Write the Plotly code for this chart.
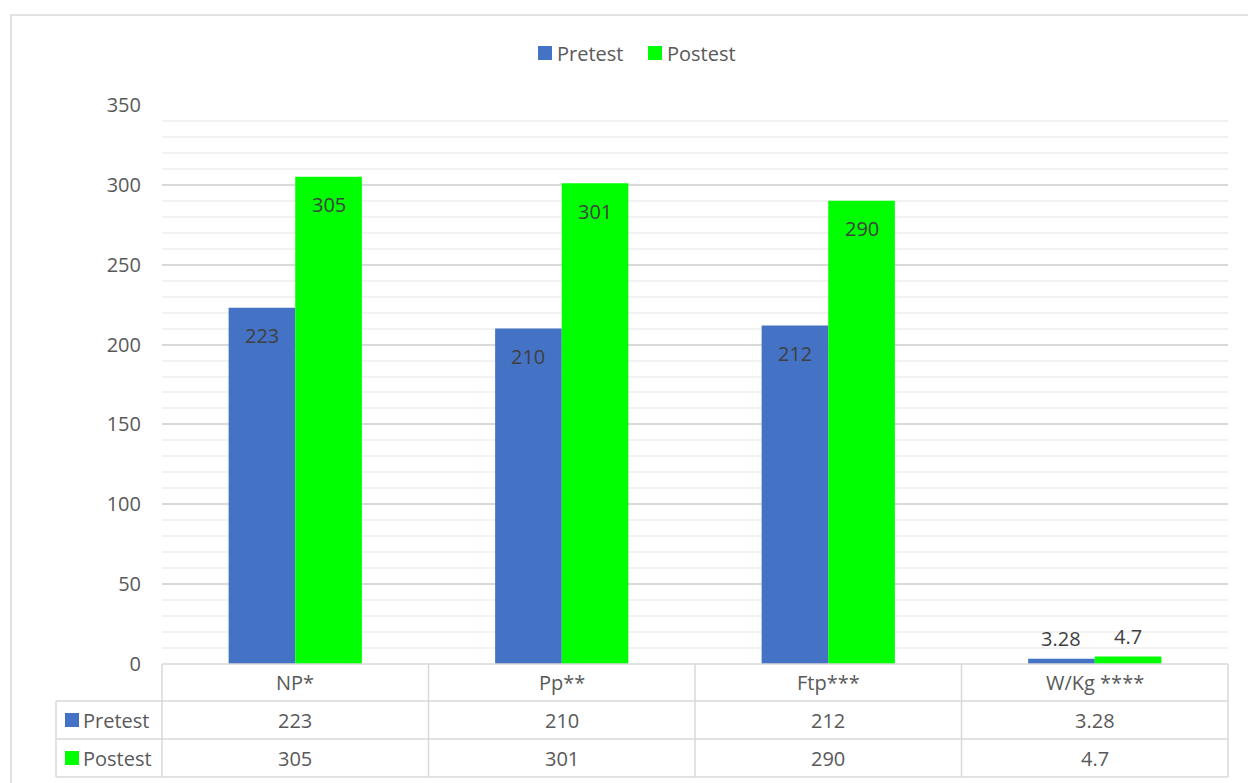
import plotly.graph_objects as go

categories = ["NP*", "Pp**", "Ftp***", "W/Kg ****"]
series_names = ["Pretest", "Postest"]
pretest = [223, 210, 212, 3.28]
postest = [305, 301, 290, 4.7]
colors = ["#4472C4", "#00FF00"]
y_ticks = [0, 50, 100, 150, 200, 250, 300, 350]

W, H = 1248, 783
L, R, T, B = 162, 1228, 105, 664
PW, PH = R - L, B - T

def px(x):
    return (x - L) / PW

def py(y):
    return (B - y) / PH

FONT = "Open Sans"
TXT = "#595959"
LBL = "#404040"
GRID = "#d9d9d9"
FS = 20

fig = go.Figure()
series = [pretest, postest]
for name, vals, col in zip(series_names, series, colors):
    fig.add_trace(go.Bar(x=categories, y=vals, name=name, marker=dict(color=col, line=dict(width=0)),
                         showlegend=False))

shapes = []
annotations = []

# outer border
shapes.append(dict(type="rect", xref="paper", yref="paper", x0=px(11), x1=px(1262), y0=py(800), y1=py(15),
                   line=dict(color=GRID, width=1.5), fillcolor="rgba(0,0,0,0)", layer="below"))

# bar value labels
bar_half = PW / len(categories) / 8  # offset of each bar center from category center
for si, vals in enumerate(series):
    shift = -bar_half if si == 0 else bar_half
    for c, v in zip(categories, vals):
        big = v > 20
        annotations.append(dict(x=c, y=v, xref="x", yref="y", text=str(v), showarrow=False,
                                xshift=shift, yshift=-28 if big else 20,
                                font=dict(family=FONT, size=FS, color=LBL)))

# data table
rows_y = [664, 701, 739, 777]
tbl_left = 56
line_style = dict(color=GRID, width=1.5)
shapes.append(dict(type="line", xref="paper", yref="paper", x0=px(L), x1=px(R), y0=py(rows_y[0]), y1=py(rows_y[0]), line=line_style))
for yy in rows_y[1:]:
    shapes.append(dict(type="line", xref="paper", yref="paper", x0=px(tbl_left), x1=px(R), y0=py(yy), y1=py(yy), line=line_style))
n = len(categories)
for i in range(n + 1):
    xx = L + PW * i / n
    shapes.append(dict(type="line", xref="paper", yref="paper", x0=px(xx), x1=px(xx), y0=py(rows_y[0]), y1=py(rows_y[-1]), line=line_style))
shapes.append(dict(type="line", xref="paper", yref="paper", x0=px(tbl_left), x1=px(tbl_left), y0=py(rows_y[1]), y1=py(rows_y[-1]), line=line_style))

for c in categories:
    annotations.append(dict(x=c, y=py((rows_y[0] + rows_y[1]) / 2), xref="x", yref="paper", text=c, showarrow=False,
                            font=dict(family=FONT, size=FS, color=TXT), yanchor="middle"))
for ri, (name, vals, col) in enumerate(zip(series_names, series, colors)):
    yc = (rows_y[ri + 1] + rows_y[ri + 2]) / 2
    shapes.append(dict(type="rect", xref="paper", yref="paper", x0=px(65), x1=px(79), y0=py(yc + 7), y1=py(yc - 7),
                       fillcolor=col, line=dict(width=0)))
    annotations.append(dict(x=px(81), y=py(yc), xref="paper", yref="paper", text=name, showarrow=False,
                            xanchor="left", yanchor="middle", font=dict(family=FONT, size=FS, color=TXT)))
    for c, v in zip(categories, vals):
        annotations.append(dict(x=c, y=py(yc), xref="x", yref="paper", text=str(v), showarrow=False,
                                yanchor="middle", font=dict(family=FONT, size=FS, color=TXT)))

# top legend
leg_items = [(538, 558), (648, 668)]
for (sx, tx), name, col in zip(leg_items, series_names, colors):
    shapes.append(dict(type="rect", xref="paper", yref="paper", x0=px(sx), x1=px(sx + 14), y0=py(60), y1=py(46),
                       fillcolor=col, line=dict(width=0)))
    annotations.append(dict(x=px(tx - 3), y=py(53), xref="paper", yref="paper", text=name, showarrow=False,
                            xanchor="left", yanchor="middle", font=dict(family=FONT, size=FS, color=TXT)))

fig.update_layout(
    width=W, height=H,
    margin=dict(l=L, r=W - R, t=T, b=H - B, pad=0),
    paper_bgcolor="white", plot_bgcolor="white",
    barmode="group", bargap=0.5, bargroupgap=0,
    shapes=shapes, annotations=annotations,
    font=dict(family=FONT, size=FS, color=TXT),
    xaxis=dict(showticklabels=False, showgrid=False, zeroline=False, showline=False, ticks=""),
    yaxis=dict(range=[0, 350], tickvals=y_ticks, showgrid=True, gridcolor=GRID, gridwidth=1.5,
               zeroline=False, showline=False, ticks="", ticklabelstandoff=20,
               tickfont=dict(family=FONT, size=FS, color=TXT),
               minor=dict(dtick=10, showgrid=True, gridcolor="#f2f2f2", gridwidth=1.5)),
)

fig.write_html("out.html")
